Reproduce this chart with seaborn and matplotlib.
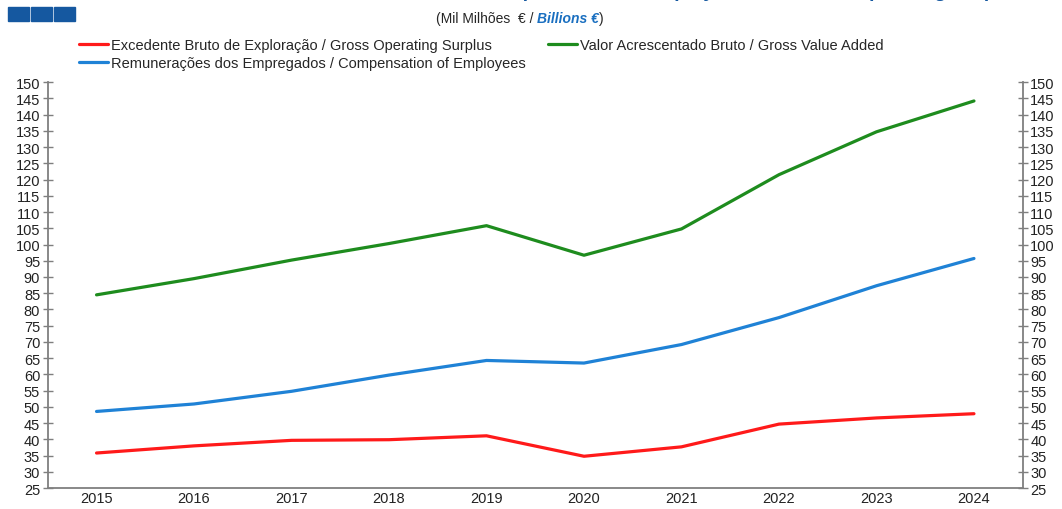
import numpy as np
import pandas as pd
import matplotlib
matplotlib.use("Agg")
import matplotlib.pyplot as plt
import matplotlib.patches as mpatches
import seaborn as sns

# Data (Mil Milhões € / Billions €)
years = ["2015", "2016", "2017", "2018", "2019", "2020", "2021", "2022", "2023", "2024"]
ebe = [35.8, 38.0, 39.7, 39.9, 41.1, 34.8, 37.7, 44.7, 46.6, 47.9]
rem = [48.6, 50.9, 54.8, 59.8, 64.3, 63.5, 69.2, 77.5, 87.3, 95.7]
vab = [84.5, 89.5, 95.2, 100.3, 105.8, 96.7, 104.8, 121.5, 134.7, 144.2]

series_names = [
    "Excedente Bruto de Exploração / Gross Operating Surplus",
    "Remunerações dos Empregados / Compensation of Employees",
    "Valor Acrescentado Bruto / Gross Value Added",
]
colors = ["#ff1a1a", "#1f82d6", "#1e8c1e"]
yticks = list(range(25, 151, 5))

df = pd.DataFrame({
    "year": years * 3,
    "value": ebe + rem + vab,
    "serie": [series_names[0]] * 10 + [series_names[1]] * 10 + [series_names[2]] * 10,
})

sns.set_style("ticks")
plt.rcParams["font.family"] = ["Liberation Sans", "DejaVu Sans"]

fig = plt.figure(figsize=(10.62, 5.10), dpi=100)
ax = fig.add_axes([0.045, 0.041, 0.918, 0.796])

sns.lineplot(data=df, x="year", y="value", hue="serie", hue_order=series_names,
             palette=colors, linewidth=2.3, sort=False, ax=ax, legend=False)

ax.set_xlim(-0.5, len(years) - 0.5)
ax.set_ylim(25, 150)
ax.set_yticks(yticks)
ax.set_xlabel("")
ax.set_ylabel("")

ax2 = ax.twinx()
ax2.set_ylim(25, 150)
ax2.set_yticks(yticks)

gray = "#7f7f7f"
for a in (ax, ax2):
    a.spines["top"].set_visible(False)
    for s in ("left", "right", "bottom"):
        a.spines[s].set_color(gray)
        a.spines[s].set_linewidth(1.3)
    a.tick_params(axis="y", direction="inout", length=7, width=1.0, color=gray,
                  labelsize=10.5, labelcolor="#222222", pad=2)
ax.spines["right"].set_visible(False)
ax2.spines["left"].set_visible(False)
ax2.spines["bottom"].set_visible(False)
ax.tick_params(axis="x", length=0, labelsize=10.5, labelcolor="#222222", pad=2)

# legend
handles = [plt.Line2D([], [], color=c, lw=2.3) for c in colors]
leg = fig.legend(handles, series_names, ncol=2, loc="upper left",
                 bbox_to_anchor=(0.062, 0.949), frameon=False,
                 handlelength=2.0, handletextpad=0.2, columnspacing=1.5,
                 labelspacing=0.25, prop={"size": 10.5})

# blue squares top-left
for i in range(3):
    fig.patches.append(mpatches.Rectangle((8 / 1062 + i * 23 / 1062, 1 - 22 / 510),
                                          21 / 1062, 14 / 510, transform=fig.transFigure,
                                          color="#1558a0", zorder=5))

# title, cut off at the top edge (as in the reference)
fig.text(0.62, 1 + 3 / 510, "Gross Value Added, Compensation of Employees and Gross Operating Surplus",
         ha="center", va="baseline", fontsize=14, fontweight="bold", style="italic",
         color="#1558a0")

# subtitle with mixed styles
fig.canvas.draw()
r = fig.canvas.get_renderer()
ysub = 1 - 19 / 510
t1 = fig.text(0, ysub, "(Mil Milhões  € / ", fontsize=10, va="center")
t2 = fig.text(0, ysub, "Billions €", fontsize=10, va="center",
              fontweight="bold", style="italic", color="#1a6fc0")
t3 = fig.text(0, ysub, ")", fontsize=10, va="center")
w = [t.get_window_extent(r).width / fig.bbox.width for t in (t1, t2, t3)]
x0 = 520 / 1062 - sum(w) / 2
t1.set_x(x0)
t2.set_x(x0 + w[0])
t3.set_x(x0 + w[0] + w[1])

fig.savefig("out.png", dpi=100)
